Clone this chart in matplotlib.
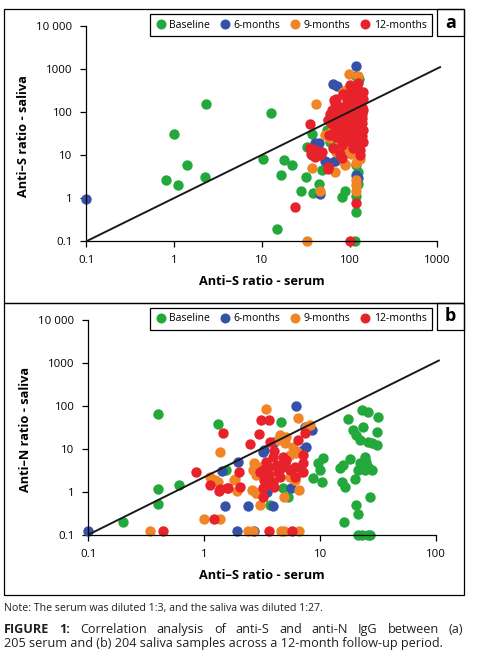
import matplotlib
matplotlib.use("Agg")
import matplotlib.pyplot as plt
from matplotlib.patches import Rectangle
from matplotlib.lines import Line2D
from matplotlib.ticker import FixedLocator, FixedFormatter, NullLocator

plt.rcParams['font.family'] = ['Open Sans', 'DejaVu Sans']

# ---------------- data ----------------
series_names = ["Baseline", "6-months", "9-months", "12-months"]
series_colors = ["#23a83b", "#3552a9", "#f18427", "#e8222a"]

# Panel a: anti-S serum (x) vs anti-S saliva (y)
a_base_x = [0.80, 1.1, 0.99, 1.4, 2.23, 2.3, 12.8, 10.3, 17.7, 21.9, 16.7, 15, 32, 27.7, 37.7, 32.4,
            45, 38.6, 49, 82.6, 88.7, 120, 117, 120, 115, 120, 55, 125, 125, 60, 100, 130, 128]
a_base_y = [2.6, 2.04, 32, 5.8, 3.1, 155, 94, 8.1, 7.7, 5.8, 3.55, 0.19, 3.1, 1.5, 30.8, 15.3,
            2.15, 1.36, 4.56, 1.05, 1.46, 0.48, 1.15, 6, 0.1, 700, 39, 2.1, 4.0, 20, 15, 60, 600]
a_m6_x = [0.1, 120, 65, 72, 40, 45, 52, 60, 68, 46, 120, 130, 128, 37, 125]
a_m6_y = [0.96, 1200, 460, 400, 19, 19, 7.4, 6.8, 7.2, 1.24, 3.5, 32, 320, 10, 3.0]
a_m9_x = [33, 98, 125, 90, 85, 42, 57, 52, 37, 68, 46, 89, 117, 117, 117, 117, 88, 97, 105,
          80, 110, 130, 75, 120, 95, 70, 135, 60, 130, 88, 112, 100, 78, 135, 62, 118, 92]
a_m9_y = [0.1, 780, 700, 330, 300, 155, 66, 29, 5, 4.2, 1.5, 6.3, 6.6, 2.6, 2.05, 1.5, 5.9, 21, 11,
          45, 80, 180, 30, 22, 14, 12, 100, 25, 8, 18, 40, 60, 20, 250, 35, 12, 110]
a_m12_x = [100, 24, 117, 35.4, 35, 40, 48, 40, 46, 36, 57, 57, 101, 126, 126, 110, 93, 68, 81, 132,
           63, 74, 97, 120, 143, 57, 81, 110, 138, 68, 88, 115, 143, 71, 97, 126, 81, 115, 65, 78,
           110, 132, 81, 67, 143, 140, 140, 143, 120, 105, 90, 130,
           60, 75, 86, 102, 118, 135, 62, 92, 108, 124, 140, 72, 85, 100, 112, 128, 76, 95, 132, 90,
           104, 120, 70, 58, 84, 100, 143, 138]
a_m12_y = [0.1, 0.64, 0.76, 53, 14.5, 13.2, 12, 9.3, 10, 10.5, 4.9, 5.4, 427, 472, 275, 230, 195, 163, 136, 148,
           112, 95, 95, 103, 112, 66, 60, 66, 72, 43, 39, 47, 39, 27, 25, 30, 17.4, 16, 14.5, 11,
           14.5, 13, 8.5, 190, 200, 90, 55, 20, 350, 160, 75, 10,
           90, 130, 80, 140, 180, 240, 55, 50, 35, 60, 130, 70, 22, 55, 90, 45, 36, 120, 25, 30,
           20, 80, 200, 30, 270, 300, 300, 28]

# Panel b: anti-S serum (x) vs anti-N saliva (y)
b_base_x = [0.2, 0.40, 0.40, 0.40, 0.6, 1.32, 1.53, 4.6, 4.8, 5.3, 3.7, 10.6, 9.6, 9.9, 8.7, 10.3,
            17.4, 19.2, 20.5, 22, 22.7, 26, 31.5, 23.5, 30.6, 26, 27.7, 30.6, 15.8, 14.8, 18, 22, 24.3,
            25, 26, 21.3, 24.3, 27.7, 15.3, 16.3, 20, 26.9, 20.3, 21.2, 16, 21, 23, 26, 27]
b_base_y = [0.2, 65, 1.17, 0.51, 1.43, 37, 3.2, 42, 1.2, 0.76, 0.5, 6, 4.6, 3.2, 2.05, 1.7,
            49, 27, 21, 16, 79, 71, 55, 32, 25, 14.5, 13.4, 12, 4.2, 3.5, 5.7, 4.6, 6.5,
            5, 3.8, 3.2, 3.2, 3.2, 1.7, 1.3, 1.95, 0.74, 0.5, 0.3, 0.2, 0.1, 0.1, 0.1, 0.1]
b_m6_x = [0.1, 6.2, 8.4, 7.4, 1.96, 1.41, 1.5, 2.4, 1.9, 2.7, 3.9, 3.3, 3.2, 5.6, 7.1, 7.6,
          6.5, 5.8, 3.5, 4.0]
b_m6_y = [0.12, 98, 27, 32, 5, 3.1, 0.47, 0.47, 0.12, 0.12, 0.46, 9.3, 8.5, 1.2, 9.3, 11,
          3.0, 2.5, 1.0, 14]
b_m9_x = [0.34, 1.0, 1.37, 1.37, 1.12, 1.23, 1.3, 1.8, 1.9, 1.84, 2.4, 2.65, 4.6, 4.9, 6.6,
          3.4, 6.45, 7.6, 8.1, 4.5, 5.1, 5.0, 6.3, 5.5, 2.7, 3.0, 2.65, 2.8, 2.8, 3.0, 4.9, 6.6,
          2.6, 2.8, 6.05, 5.5, 6.4, 6.0, 6.2, 5.8, 4.3]
b_m9_y = [0.12, 0.23, 0.23, 8.5, 2.2, 1.9, 1.7, 1.9, 1.06, 2.0, 0.12, 0.12, 0.12, 0.12, 0.12,
          85, 51, 32, 36, 21, 19, 13.6, 8.5, 7, 4.6, 3.8, 3.2, 2.45, 0.95, 0.5, 0.76, 1.09,
          1.09, 0.92, 1.86, 2.24, 2.7, 1.9, 7.8, 11, 16]
b_m12_x = [0.44, 1.22, 0.84, 1.12, 1.33, 1.37, 1.57, 1.6, 2.03, 2.0, 1.46, 2.48, 2.98, 3.1, 3.6,
           3.6, 5.7, 3.2, 3.2, 3.7, 6.45, 7.4, 7.1, 7.1, 5.1, 3.9, 4.2, 4.6, 3.6, 3.2, 3.6, 3.3,
           3.9, 4.5, 5.5, 6.05, 7.1, 4.0, 4.8, 3.4, 4.3, 5.0, 6.0, 3.0, 4.0, 3.5]
b_m12_y = [0.12, 0.23, 2.8, 1.43, 1.06, 1.14, 1.2, 1.2, 1.3, 2.9, 23, 12.9, 21.6, 46, 46,
           0.12, 0.12, 0.74, 1.2, 14.5, 16, 23, 7.1, 4.6, 5.5, 6.5, 4.2, 3.5, 3.8, 3.2, 2.45, 1.86,
           1.7, 2.24, 3.2, 2.24, 2.9, 9, 6.5, 5.0, 2.9, 4.5, 3.8, 2.9, 1.3, 1.5]

# reference (trend) lines
a_line_x = [0.1, 1100]
a_line_y = [0.1, 1150]
b_line_x = [0.1, 107]
b_line_y = [0.1, 1150]

a_xticks = [0.1, 1, 10, 100, 1000]
a_xlabels = ["0.1", "1", "10", "100", "1000"]
b_xticks = [0.1, 1, 10, 100]
b_xlabels = ["0.1", "1", "10", "100"]
yticks = [0.1, 1, 10, 100, 1000, 10000]
ylabels = ["0.1", "1", "10", "100", "1000", "10 000"]

# ---------------- figure ----------------
W, H = 486, 667
fig = plt.figure(figsize=(W / 100, H / 100), dpi=100)


def fx(x):
    return x / W


def fy(y):
    return 1 - y / H


def rect(x0, y0, x1, y1, lw=0.9):
    fig.patches.append(Rectangle((fx(x0), fy(y1)), fx(x1) - fx(x0), fy(y0) - fy(y1),
                                 transform=fig.transFigure, fill=False, ec="black", lw=lw))


MS = 56


def panel(axrect, xs, ys, lx, ly, xticks, xlabels, xlim, ylab, letter, top):
    ax = fig.add_axes(axrect)
    ax.set_xscale("log")
    ax.set_yscale("log")
    for (x, y), c in zip(zip(xs, ys), series_colors):
        ax.scatter(x, y, s=MS, c=c, linewidths=0, clip_on=False, zorder=2)
    ax.plot(lx, ly, color="#1a1a1a", lw=1.4, zorder=3, clip_on=False, solid_capstyle="butt")
    ax.set_xlim(*xlim)
    ax.set_ylim(0.1, 10000)
    ax.xaxis.set_major_locator(FixedLocator(xticks))
    ax.xaxis.set_major_formatter(FixedFormatter(xlabels))
    ax.yaxis.set_major_locator(FixedLocator(yticks))
    ax.yaxis.set_major_formatter(FixedFormatter(ylabels))
    ax.xaxis.set_minor_locator(NullLocator())
    ax.yaxis.set_minor_locator(NullLocator())
    for s in ("top", "right"):
        ax.spines[s].set_visible(False)
    for s in ("left", "bottom"):
        ax.spines[s].set_linewidth(0.9)
    ax.tick_params(axis="both", length=4, width=0.9, labelsize=8.2, colors="black")
    ax.tick_params(axis="x", pad=6)
    ax.tick_params(axis="y", pad=6)
    ax.set_xlabel("Anti\u2013S ratio - serum", fontsize=9.2, fontweight="bold", va="center")
    ax.xaxis.set_label_coords(0.5, -0.188)
    ax.set_ylabel(ylab, fontsize=9.2, fontweight="bold", va="center")
    ax.yaxis.set_label_coords(-0.18, 0.49)
    ax.patch.set_visible(False)

    # legend box + label box
    rect(150, top + 5, 431.7, top + 27)
    rect(437, top, 464.3, top + 27)
    fig.text(fx(450.7), fy(top + 13.5), letter, fontsize=13, fontweight="bold",
             ha="center", va="center")
    handles = [Line2D([], [], ls="none", marker="o", ms=7.2, mfc=c, mec="none") for c in series_colors]
    fig.legend(handles, series_names, loc="center", bbox_to_anchor=(fx(291), fy(top + 16)),
               ncol=4, frameon=False, fontsize=7.5, handlelength=1.0, handletextpad=0.3,
               columnspacing=0.95, borderpad=0, borderaxespad=0)
    return ax


panel([fx(86.3), fy(241.3), (437.3 - 86.3) / W, 215 / H],
      [a_base_x, a_m6_x, a_m9_x, a_m12_x], [a_base_y, a_m6_y, a_m9_y, a_m12_y],
      a_line_x, a_line_y, a_xticks, a_xlabels, (0.1, 1000), "Anti\u2013S ratio - saliva", "a", 9.3)
panel([fx(88.3), fy(534.7), (436.3 - 88.3) / W, 215 / H],
      [b_base_x, b_m6_x, b_m9_x, b_m12_x], [b_base_y, b_m6_y, b_m9_y, b_m12_y],
      b_line_x, b_line_y, b_xticks, b_xlabels, (0.1, 100), "Anti\u2013N ratio - saliva", "b", 302.7)

# outer frames
rect(4.3, 9.3, 464.3, 302.5)
rect(4.3, 302.5, 464.3, 595)

# note and caption
txtcol = "#231f20"
fig.text(fx(4.3), fy(609), "Note: The serum was diluted 1:3, and the saliva was diluted 1:27.",
         fontsize=7.7, ha="left", va="center", color=txtcol)

line1 = [("FIGURE", "bold"), ("1:", "bold"), ("Correlation", "normal"), ("analysis", "normal"),
         ("of", "normal"), ("anti-S", "normal"), ("and", "normal"), ("anti-N", "normal"),
         ("IgG", "normal"), ("between", "normal"), ("(a)", "normal")]
cap_fs = 9.1
renderer = fig.canvas.get_renderer()
objs = []
for w, wt in line1:
    t = fig.text(0, fy(629.5), w, fontsize=cap_fs, fontweight=wt, ha="left", va="center", color=txtcol)
    objs.append(t)
widths = [o.get_window_extent(renderer).width for o in objs]
x0, x1 = 4.3, 463.3
gap = (x1 - x0 - sum(widths)) / (len(objs) - 1)
xc = x0
for o, wd in zip(objs, widths):
    o.set_x(fx(xc))
    xc += wd + gap
fig.text(fx(4.3), fy(644), "205 serum and (b) 204 saliva samples across a 12-month follow-up period.",
         fontsize=cap_fs, ha="left", va="center", color=txtcol)

fig.savefig("out.png", dpi=100)
